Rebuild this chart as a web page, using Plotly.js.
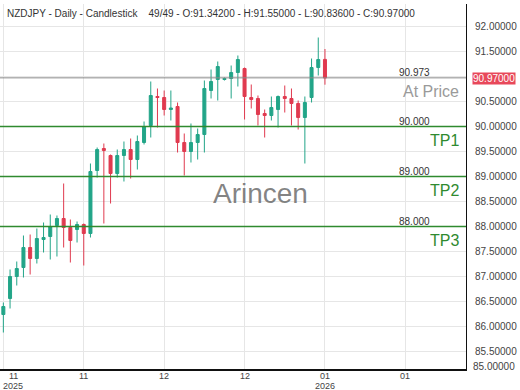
<!DOCTYPE html>
<html>
<head>
<meta charset="utf-8">
<script src="https://cdn.plot.ly/plotly-3.0.1.min.js"></script>
<style>html,body{margin:0;padding:0;background:#fff}#chart{width:520px;height:390px}</style>
</head>
<body>
<div id="chart"></div>
<script>
// Daily NZDJPY candles (49 sessions)
var openP  = [86.24,86.56,87.00,87.18,87.58,87.36,87.74,87.80,88.02,88.16,87.98,87.94,88.04,87.86,89.12,89.56,89.42,89.06,89.42,89.54,89.34,89.68,90.02,90.60,90.58,90.34,90.40,89.68,89.50,89.68,89.84,90.72,90.94,90.94,90.96,91.08,91.16,90.58,90.56,90.26,90.22,90.34,90.60,90.56,90.46,90.18,90.58,91.18,91.342];
var highP  = [86.48,87.14,87.30,87.82,87.84,87.96,88.08,88.24,88.22,88.86,88.14,88.10,88.06,89.26,89.58,89.66,89.44,89.54,89.70,89.76,89.82,90.10,90.90,90.76,90.72,90.72,90.48,89.86,90.06,89.96,90.92,91.14,91.30,90.98,91.22,91.42,91.18,90.84,90.62,90.34,90.60,90.62,90.82,90.76,90.52,90.60,91.36,91.78,91.55];
var lowP   = [85.88,86.36,86.82,86.98,87.04,87.26,87.48,87.34,87.40,87.58,87.28,87.68,87.22,87.78,88.98,88.06,88.46,88.98,88.90,88.96,89.14,89.64,89.78,89.98,90.22,90.12,89.48,89.02,89.28,89.34,89.48,90.56,90.52,90.92,90.56,90.80,90.14,90.36,90.02,89.78,90.12,89.98,90.28,90.02,89.94,89.26,90.48,91.02,90.836];
var closeP = [86.40,87.00,87.16,87.58,87.36,87.76,87.78,88.00,88.16,87.98,87.72,88.04,87.86,89.10,89.54,89.52,89.06,89.42,89.54,89.34,89.70,90.00,90.62,90.58,90.34,90.37,89.68,89.50,89.68,89.84,90.76,90.90,91.20,90.96,91.08,91.34,90.60,90.54,90.24,90.22,90.38,90.60,90.56,90.46,90.18,90.48,91.18,91.34,90.97];

// x-axis grid positions (session index) and labels (first label kept inside the plot)
var tickIdx    = [0, 12, 24, 36, 48, 60];
var labelIdx   = [1.45, 12, 24, 36, 48, 60];
var monthLabel = ['11', '11', '12', '12', '01', '01'];
var yearLabel  = ['2025', '', '', '', '2026', ''];

// y-axis ticks (91.0 label is covered by the last-price tag)
var yTicks = [85.5, 86.0, 86.5, 87.0, 87.5, 88.0, 88.5, 89.0, 89.5, 90.0, 90.5, 91.0, 91.5, 92.0];
var yTickText = ['85.50000','86.00000','86.50000','87.00000','87.50000','88.00000','88.50000','89.00000','89.50000','90.00000','90.50000','','91.50000','92.00000'];

// price levels
var levelVals   = [90.973, 90.000, 89.000, 88.000];
var levelText   = ['90.973', '90.000', '89.000', '88.000'];
var levelNames  = ['At Price', 'TP1', 'TP2', 'TP3'];
var lastPrice = 90.97;

var titleText = 'NZDJPY - Daily - Candlestick\u00a0\u00a0\u00a0\u00a049/49 - O:91.34200 - H:91.55000 - L:90.83600 - C:90.97000';

var GREEN = '#22a588', RED = '#e03a4f', TPC = '#2f8a2f';
var xs = openP.map(function(_, i){ return i; });

var trace = {
  type: 'candlestick', x: xs, open: openP, high: highP, low: lowP, close: closeP,
  increasing: {line: {color: GREEN, width: 1}, fillcolor: GREEN},
  decreasing: {line: {color: RED, width: 1}, fillcolor: RED},
  whiskerwidth: 0, hoverinfo: 'skip', showlegend: false
};

var shapes = [], ann = [];
levelVals.forEach(function(v, i){
  var isPrice = i === 0;
  shapes.push({type: 'line', xref: 'paper', x0: 0, x1: 1, yref: 'y', y0: v, y1: v,
    line: {color: isPrice ? '#8a8a8a' : TPC, width: isPrice ? 1 : 1.3}});
  ann.push({xref: 'paper', x: 431/466, xanchor: 'right', yref: 'y', y: v, yanchor: 'bottom',
    text: levelText[i], showarrow: false, font: {size: 10, color: '#333'}, borderpad: 0, yshift: -1});
  ann.push({xref: 'paper', x: 460/466, xanchor: 'right', yref: 'y', y: v, yanchor: 'top',
    text: levelNames[i], showarrow: false, font: {size: 16, color: isPrice ? '#9a9a9a' : TPC}, borderpad: 0, yshift: -4});
});

labelIdx.forEach(function(xi, i){
  ann.push({xref: 'x', x: xi, yref: 'paper', y: 0, yanchor: 'top', yshift: -1, text: monthLabel[i],
    showarrow: false, font: {size: 9, color: '#444'}, borderpad: 0});
  if (yearLabel[i]) {
    ann.push({xref: 'x', x: xi, yref: 'paper', y: 0, yanchor: 'top', yshift: -10.5, text: yearLabel[i],
      showarrow: false, font: {size: 9, color: '#444'}, borderpad: 0});
  }
});

// bottom y label outside range
ann.push({xref: 'paper', x: 1, xanchor: 'left', xshift: 6, yref: 'paper', y: 0, yanchor: 'middle', yshift: 3,
  text: '85.00000', showarrow: false, font: {size: 10, color: '#444'}, borderpad: 0});

// last price tag
ann.push({xref: 'paper', x: 1, xanchor: 'left', xshift: 6, yref: 'y', y: lastPrice, yanchor: 'middle',
  text: lastPrice.toFixed(5), showarrow: false, font: {size: 10, color: '#fff'}, bgcolor: '#e8485a', borderpad: 0});

// title and watermark
ann.push({xref: 'paper', x: 0, xanchor: 'left', xshift: 6, yref: 'paper', y: 1, yanchor: 'middle', yshift: -9,
  text: titleText, showarrow: false, font: {size: 10, color: '#333'}, borderpad: 0});
ann.push({xref: 'paper', x: 260/466, xanchor: 'center', yref: 'paper', y: (369-193)/365, yanchor: 'middle',
  text: 'Arincen', showarrow: false, font: {size: 28, color: 'rgba(110,110,110,0.85)'}, borderpad: 0});

var layout = {
  width: 520, height: 390,
  margin: {l: 0, r: 54, t: 4, b: 21, pad: 0},
  paper_bgcolor: '#fff', plot_bgcolor: '#fff',
  font: {family: 'Liberation Sans, Arial, sans-serif', size: 10, color: '#444'},
  showlegend: false, boxgap: 0.36,
  xaxis: {type: 'linear', range: [-0.5, 69.05], tickvals: tickIdx, showticklabels: false,
    showgrid: true, gridcolor: '#e6e6e6', gridwidth: 1, zeroline: false,
    showline: true, linecolor: '#111', linewidth: 2, ticks: '',
    rangeslider: {visible: false}, fixedrange: true},
  yaxis: {side: 'right', range: [85.15, 92.45], tickvals: yTicks, ticktext: yTickText,
    showgrid: true, gridcolor: '#e6e6e6', gridwidth: 1, zeroline: false,
    showline: true, linecolor: '#111', linewidth: 1, ticks: '', ticklabelstandoff: 6,
    tickfont: {size: 10, color: '#444'}, fixedrange: true},
  shapes: shapes, annotations: ann
};

Plotly.newPlot('chart', [trace], layout, {displayModeBar: false, staticPlot: true});
</script>
</body>
</html>
